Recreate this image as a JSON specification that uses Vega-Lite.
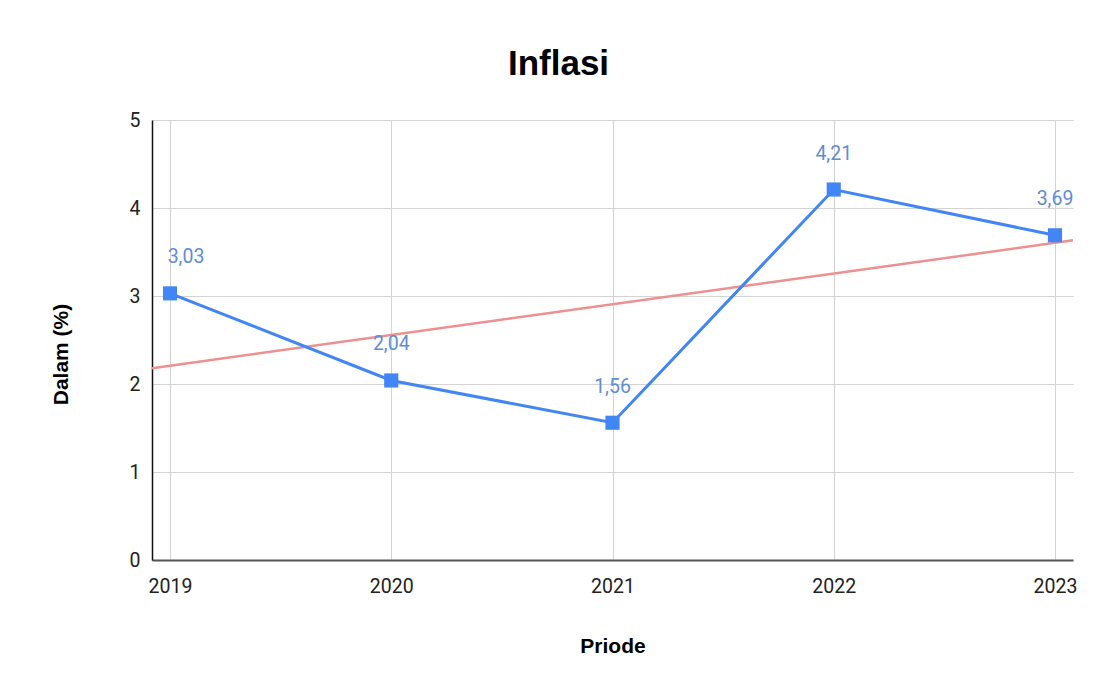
{
  "$schema": "https://vega.github.io/schema/vega-lite/v6.json",
  "autosize": {"type": "none"},
  "width": 921,
  "height": 440,
  "padding": {"left": 152, "top": 120, "right": 23, "bottom": 128},
  "background": "white",
  "title": {
    "text": "Inflasi",
    "font": "Liberation Sans",
    "fontSize": 35,
    "fontWeight": "bold",
    "color": "#000000",
    "anchor": "middle",
    "offset": 28,
    "dx": -54
  },
  "data": {
    "values": [
      {"tahun": 2019, "inflasi": 3.03},
      {"tahun": 2020, "inflasi": 2.04},
      {"tahun": 2021, "inflasi": 1.56},
      {"tahun": 2022, "inflasi": 4.21},
      {"tahun": 2023, "inflasi": 3.69}
    ]
  },
  "encoding": {
    "x": {
      "field": "tahun",
      "type": "quantitative",
      "scale": {"domain": [2018.9186, 2023.0814], "nice": false, "zero": false},
      "axis": {
        "title": "Priode",
        "values": [2019, 2020, 2021, 2022, 2023],
        "format": "d",
        "ticks": false,
        "tickSize": 0,
        "labelPadding": 32,
        "labelBaseline": "alphabetic",
        "labelFont": "Roboto",
        "labelFontSize": 19.5,
        "labelColor": "#222222",
        "domainColor": "#555555",
        "domainWidth": 2,
        "grid": true,
        "gridColor": "#d3d3d3",
        "gridWidth": 1,
        "titleFont": "Liberation Sans",
        "titleFontSize": 21,
        "titleFontWeight": "bold",
        "titleColor": "#000000",
        "titleBaseline": "alphabetic",
        "titleY": 92
      }
    },
    "y": {
      "field": "inflasi",
      "type": "quantitative",
      "scale": {"domain": [0, 5], "nice": false},
      "axis": {
        "title": "Dalam (%)",
        "values": [0, 1, 2, 3, 4, 5],
        "format": "d",
        "ticks": false,
        "tickSize": 0,
        "labelPadding": 12,
        "labelFont": "Roboto",
        "labelFontSize": 19.5,
        "labelColor": "#222222",
        "domainColor": "#111111",
        "domainWidth": 1.5,
        "grid": true,
        "gridColor": "#d3d3d3",
        "gridWidth": 1,
        "titleFont": "Liberation Sans",
        "titleFontSize": 21,
        "titleFontWeight": "bold",
        "titleColor": "#000000",
        "titleBaseline": "alphabetic",
        "titleAlign": "center",
        "titleAngle": -90,
        "titleX": -85,
        "titleY": 234
      }
    }
  },
  "layer": [
    {
      "transform": [
        {"regression": "inflasi", "on": "tahun", "extent": [2018.9186, 2023.0814]}
      ],
      "mark": {"type": "line", "color": "#ee9090", "strokeWidth": 2.5, "clip": true}
    },
    {
      "mark": {"type": "line", "color": "#4285f4", "strokeWidth": 3}
    },
    {
      "mark": {"type": "point", "shape": "square", "filled": true, "size": 200, "color": "#4285f4", "opacity": 1}
    },
    {
      "transform": [{"filter": "datum.tahun > 2019"}],
      "mark": {"type": "text", "font": "Roboto", "fontSize": 19.5, "color": "#5f8dd3", "baseline": "alphabetic", "align": "center", "dy": -30},
      "encoding": {"text": {"field": "inflasi", "type": "quantitative", "format": ".2f"}}
    },
    {
      "transform": [{"filter": "datum.tahun == 2019"}],
      "mark": {"type": "text", "font": "Roboto", "fontSize": 19.5, "color": "#5f8dd3", "baseline": "alphabetic", "align": "center", "dy": -30, "dx": 16},
      "encoding": {"text": {"field": "inflasi", "type": "quantitative", "format": ".2f"}}
    }
  ],
  "config": {
    "view": {"stroke": null},
    "locale": {
      "number": {"decimal": ",", "thousands": ".", "grouping": [3], "currency": ["Rp", ""]}
    }
  }
}
